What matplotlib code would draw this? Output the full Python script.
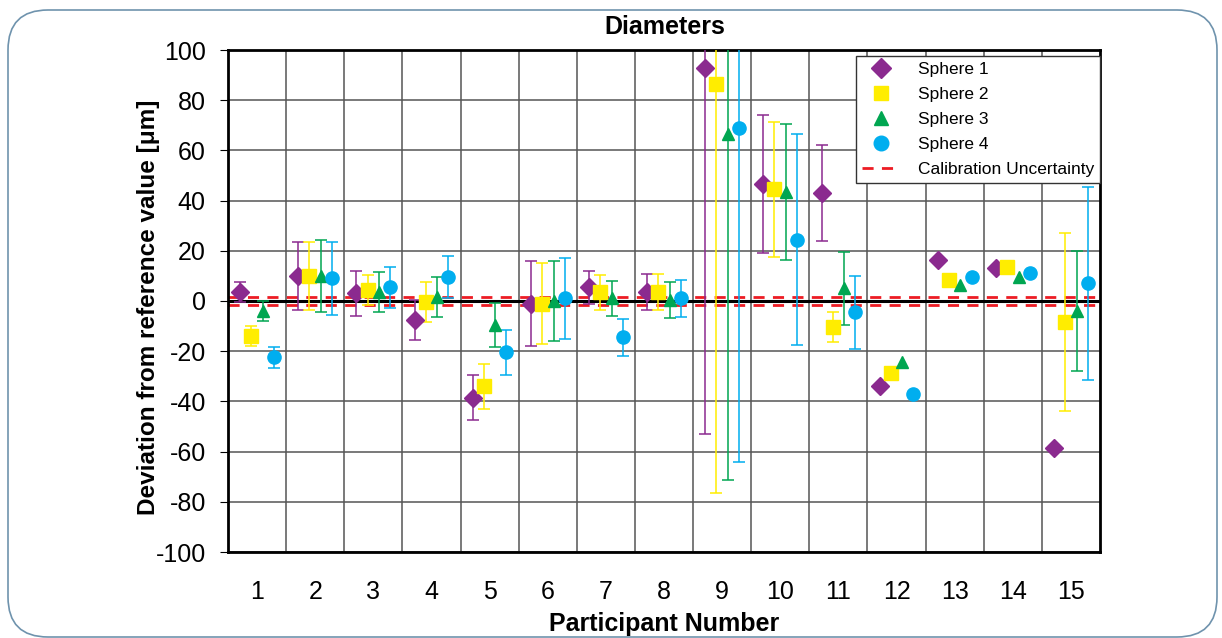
import numpy as np
import matplotlib
matplotlib.use("Agg")
import matplotlib.pyplot as plt
from matplotlib.patches import FancyBboxPatch
from matplotlib.lines import Line2D
from matplotlib.transforms import IdentityTransform

plt.rcParams['font.family'] = ['Liberation Sans', 'DejaVu Sans']
plt.rcParams['axes.unicode_minus'] = False

participants = np.arange(1, 16)
nan = np.nan

# Abweichungen vom Referenzwert [um], je Kugel
sphere1 = [3.5, 10, 3, -7.5, -38.5, -1, 5.5, 3.5, 93, 46.5, 43, -34, 16.5, 13, -58.5]
sphere1_err = [4, 13.5, 8.8, 8, 9, 16.8, 6.6, 7.2, 146, 27.5, 19, nan, nan, nan, nan]
sphere2 = [-14, 10, 4.5, -0.5, -34, -1, 3.5, 3.5, 86.5, 44.5, -10.5, -28.5, 8.5, 13.5, -8.5]
sphere2_err = [4, 13.5, 6, 8, 9, 16, 7, 7.2, 163, 27, 6, nan, nan, nan, 35.5]
sphere3 = [-4, 10, 3.5, 1.5, -9.5, 0, 1, 0.5, 66.5, 43.5, 5, -24.5, 6.5, 9.5, -4]
sphere3_err = [4, 14.5, 8, 8, 8.7, 16, 7, 7.2, 138, 27, 14.4, nan, nan, nan, 23.8]
sphere4 = [-22.5, 9, 5.5, 9.5, -20.5, 1, -14.5, 1, 69, 24.5, -4.5, -37, 9.5, 11, 7]
sphere4_err = [4, 14.5, 8.2, 8.5, 9, 16, 7.3, 7.2, 133, 42, 14.5, nan, nan, nan, 38.5]
calib_unc = 1.5

series = [
    ("Sphere 1", sphere1, sphere1_err, "D", "#8b2a8f", -0.29, 9),
    ("Sphere 2", sphere2, sphere2_err, "s", "#ffed00", -0.10, 9.5),
    ("Sphere 3", sphere3, sphere3_err, "^", "#00a651", 0.10, 9),
    ("Sphere 4", sphere4, sphere4_err, "o", "#00aeef", 0.29, 9.5),
]

fig = plt.figure(figsize=(12.22, 6.38), dpi=100)
ax = fig.add_axes([228 / 1222, 1 - 552 / 638, 872 / 1222, 502 / 638])

ax.set_xlim(0.5, 15.5)
ax.set_ylim(-100, 100)
ax.set_yticks(np.arange(-100, 101, 20))
ax.set_xticks(participants)
ax.set_xticks(np.arange(1.5, 15.5, 1), minor=True)
ax.grid(True, axis='y', which='major', color='#555555', lw=1.1)
ax.grid(True, axis='x', which='minor', color='#555555', lw=1.1)
ax.set_axisbelow(True)
ax.tick_params(axis='x', which='both', length=0, pad=20, labelsize=18)
ax.tick_params(axis='y', length=6, width=0.8, direction='out', pad=10, labelsize=18)
for sp in ax.spines.values():
    sp.set_linewidth(2)

ax.axhline(0, color='black', lw=2.2, zorder=2)
for c in (calib_unc, -calib_unc):
    ax.axhline(c, color='#ed1c24', lw=2, ls=(0, (4, 3)), zorder=2.1)

handles = []
for name, vals, err, mk, col, off, ms in series:
    vals = np.array(vals, dtype=float)
    err = np.array(err, dtype=float)
    xs = participants + off
    m = ~np.isnan(err)
    ax.errorbar(xs[m], vals[m], yerr=err[m], fmt='none', ecolor=col,
                elinewidth=1.1, capsize=4, capthick=1.1, zorder=3)
    ax.plot(xs, vals, ls='none', marker=mk, ms=ms, color=col, mec=col, zorder=4)
    handles.append(Line2D([], [], ls='none', marker=mk, ms=ms + 1, color=col, label=name))
handles.append(Line2D([], [], color='#ed1c24', lw=2, ls=(0, (4, 3)),
                      label="Calibration Uncertainty"))

leg = ax.legend(handles=handles, loc='upper right', bbox_to_anchor=(1.0, 0.988),
                borderaxespad=0, fontsize=12.5, fancybox=False, framealpha=1,
                edgecolor='#333333', handlelength=2.2, labelspacing=0.56,
                handletextpad=1.0, borderpad=0.35)
leg.get_frame().set_linewidth(1)

ax.set_ylabel("Deviation from reference value [μm]", fontsize=17.5, fontweight='bold')
ax.yaxis.set_label_coords(-0.078, 0.488)
ax.set_xlabel("Participant Number", fontsize=18, fontweight='bold', labelpad=6)
fig.text(665 / 1222, 1 - 27 / 638, "Diameters", ha='center', va='center',
         fontsize=18, fontweight='bold')

border = FancyBboxPatch((8, 1), 1209, 627, boxstyle="round,pad=0,rounding_size=40",
                        transform=IdentityTransform(), fill=False,
                        edgecolor='#6f93ad', lw=1.2)
fig.patches.append(border)

fig.savefig("out.png", dpi=100)
